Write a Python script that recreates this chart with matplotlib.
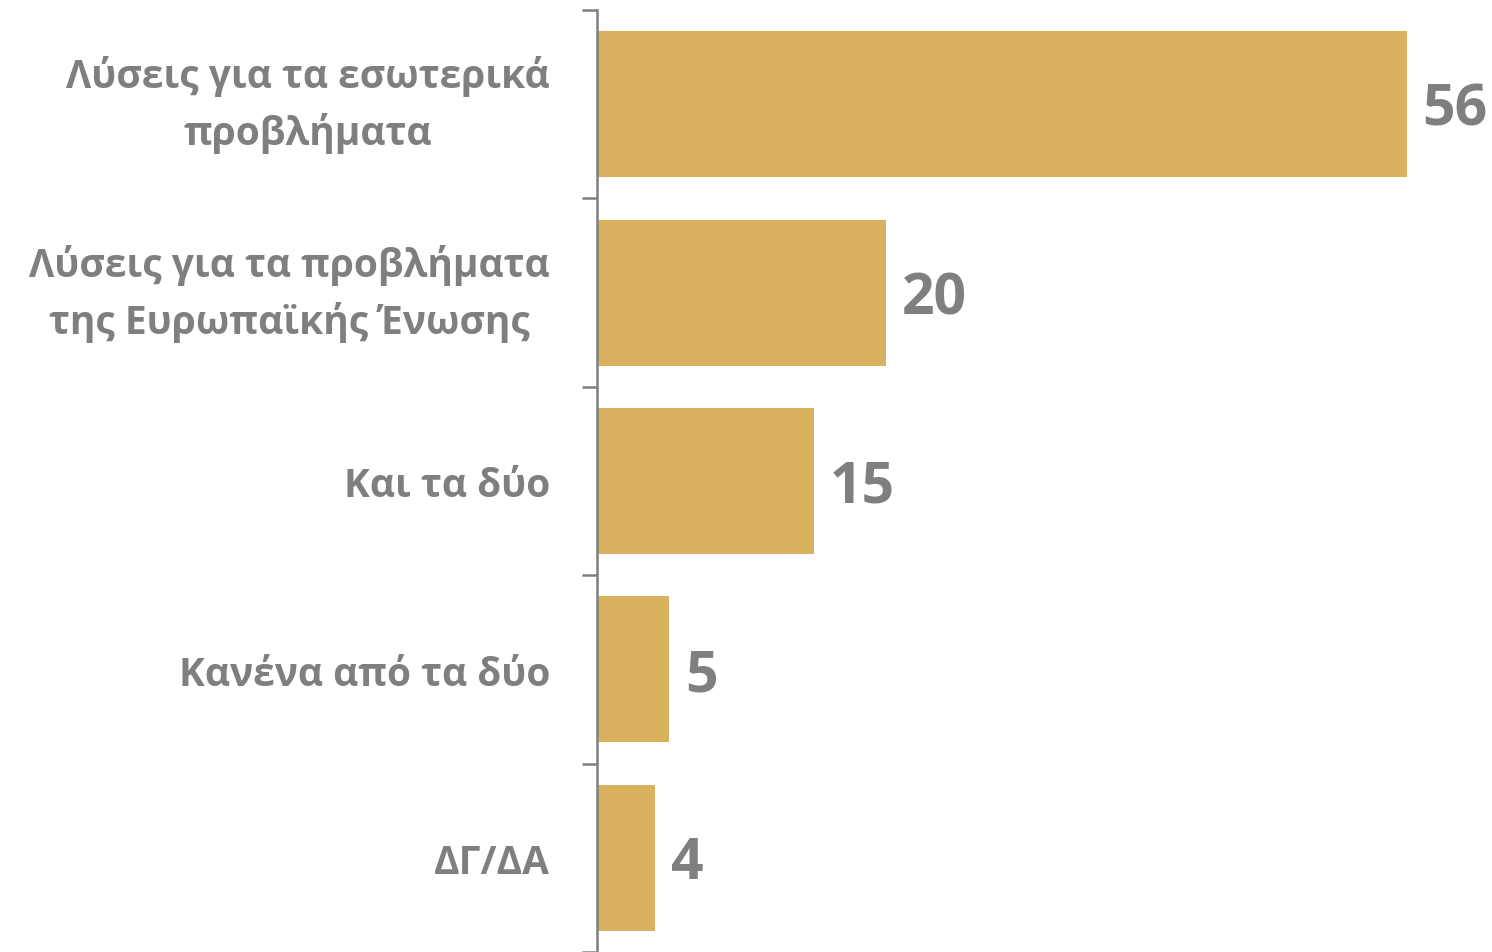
import matplotlib

matplotlib.use("Agg")
import matplotlib.pyplot as plt
import matplotlib.transforms as mtransforms
import numpy as np

categories = [
    "Λύσεις για τα εσωτερικά\nπροβλήματα",
    "Λύσεις για τα προβλήματα\nτης Ευρωπαϊκής Ένωσης",
    "Και τα δύο",
    "Κανένα από τα δύο",
    "ΔΓ/ΔΑ",
]
values = [56, 20, 15, 5, 4]

BAR = "#D8B25F"
GREY = "#7F7F7F"

plt.rcParams["font.family"] = ["Open Sans", "DejaVu Sans"]

fig = plt.figure(figsize=(14.92, 9.53), dpi=100)
ax = fig.add_axes([597 / 1492, 0.0, 1 - 597 / 1492, 1 - 11 / 953])

y = np.arange(len(categories))
ax.barh(y, values, height=0.774, color=BAR)

for yi, v in zip(y, values):
    ax.text(v + 1.1, yi + 0.03, str(v), va="center", ha="left",
            fontsize=41, fontweight="bold", color=GREY)

ax.set_xlim(0, 895 / 14.46)
ax.set_ylim(len(categories) - 0.5, -0.5)

# category labels drawn as text so the two-line ones centre on the bar
label_tr = ax.get_yaxis_transform() + mtransforms.ScaledTranslation(-47 / 100, 0, fig.dpi_scale_trans)
for yi, cat in zip(y, categories):
    dy = 0 if "\n" in cat else 0.025
    ax.text(0, yi + dy, cat, transform=label_tr, ha="right", va="center",
            multialignment="center", linespacing=1.5,
            fontsize=28, fontweight="bold", color=GREY)

ax.set_yticks([])
ax.set_yticks(np.arange(-0.5, len(categories), 1.0), minor=True)
ax.tick_params(axis="y", which="minor", length=11, width=1.8, color=GREY)

ax.set_xticks([])
for side in ["top", "right", "bottom"]:
    ax.spines[side].set_visible(False)
ax.spines["left"].set_color(GREY)
ax.spines["left"].set_linewidth(1.8)

fig.savefig("out.png", dpi=100)
